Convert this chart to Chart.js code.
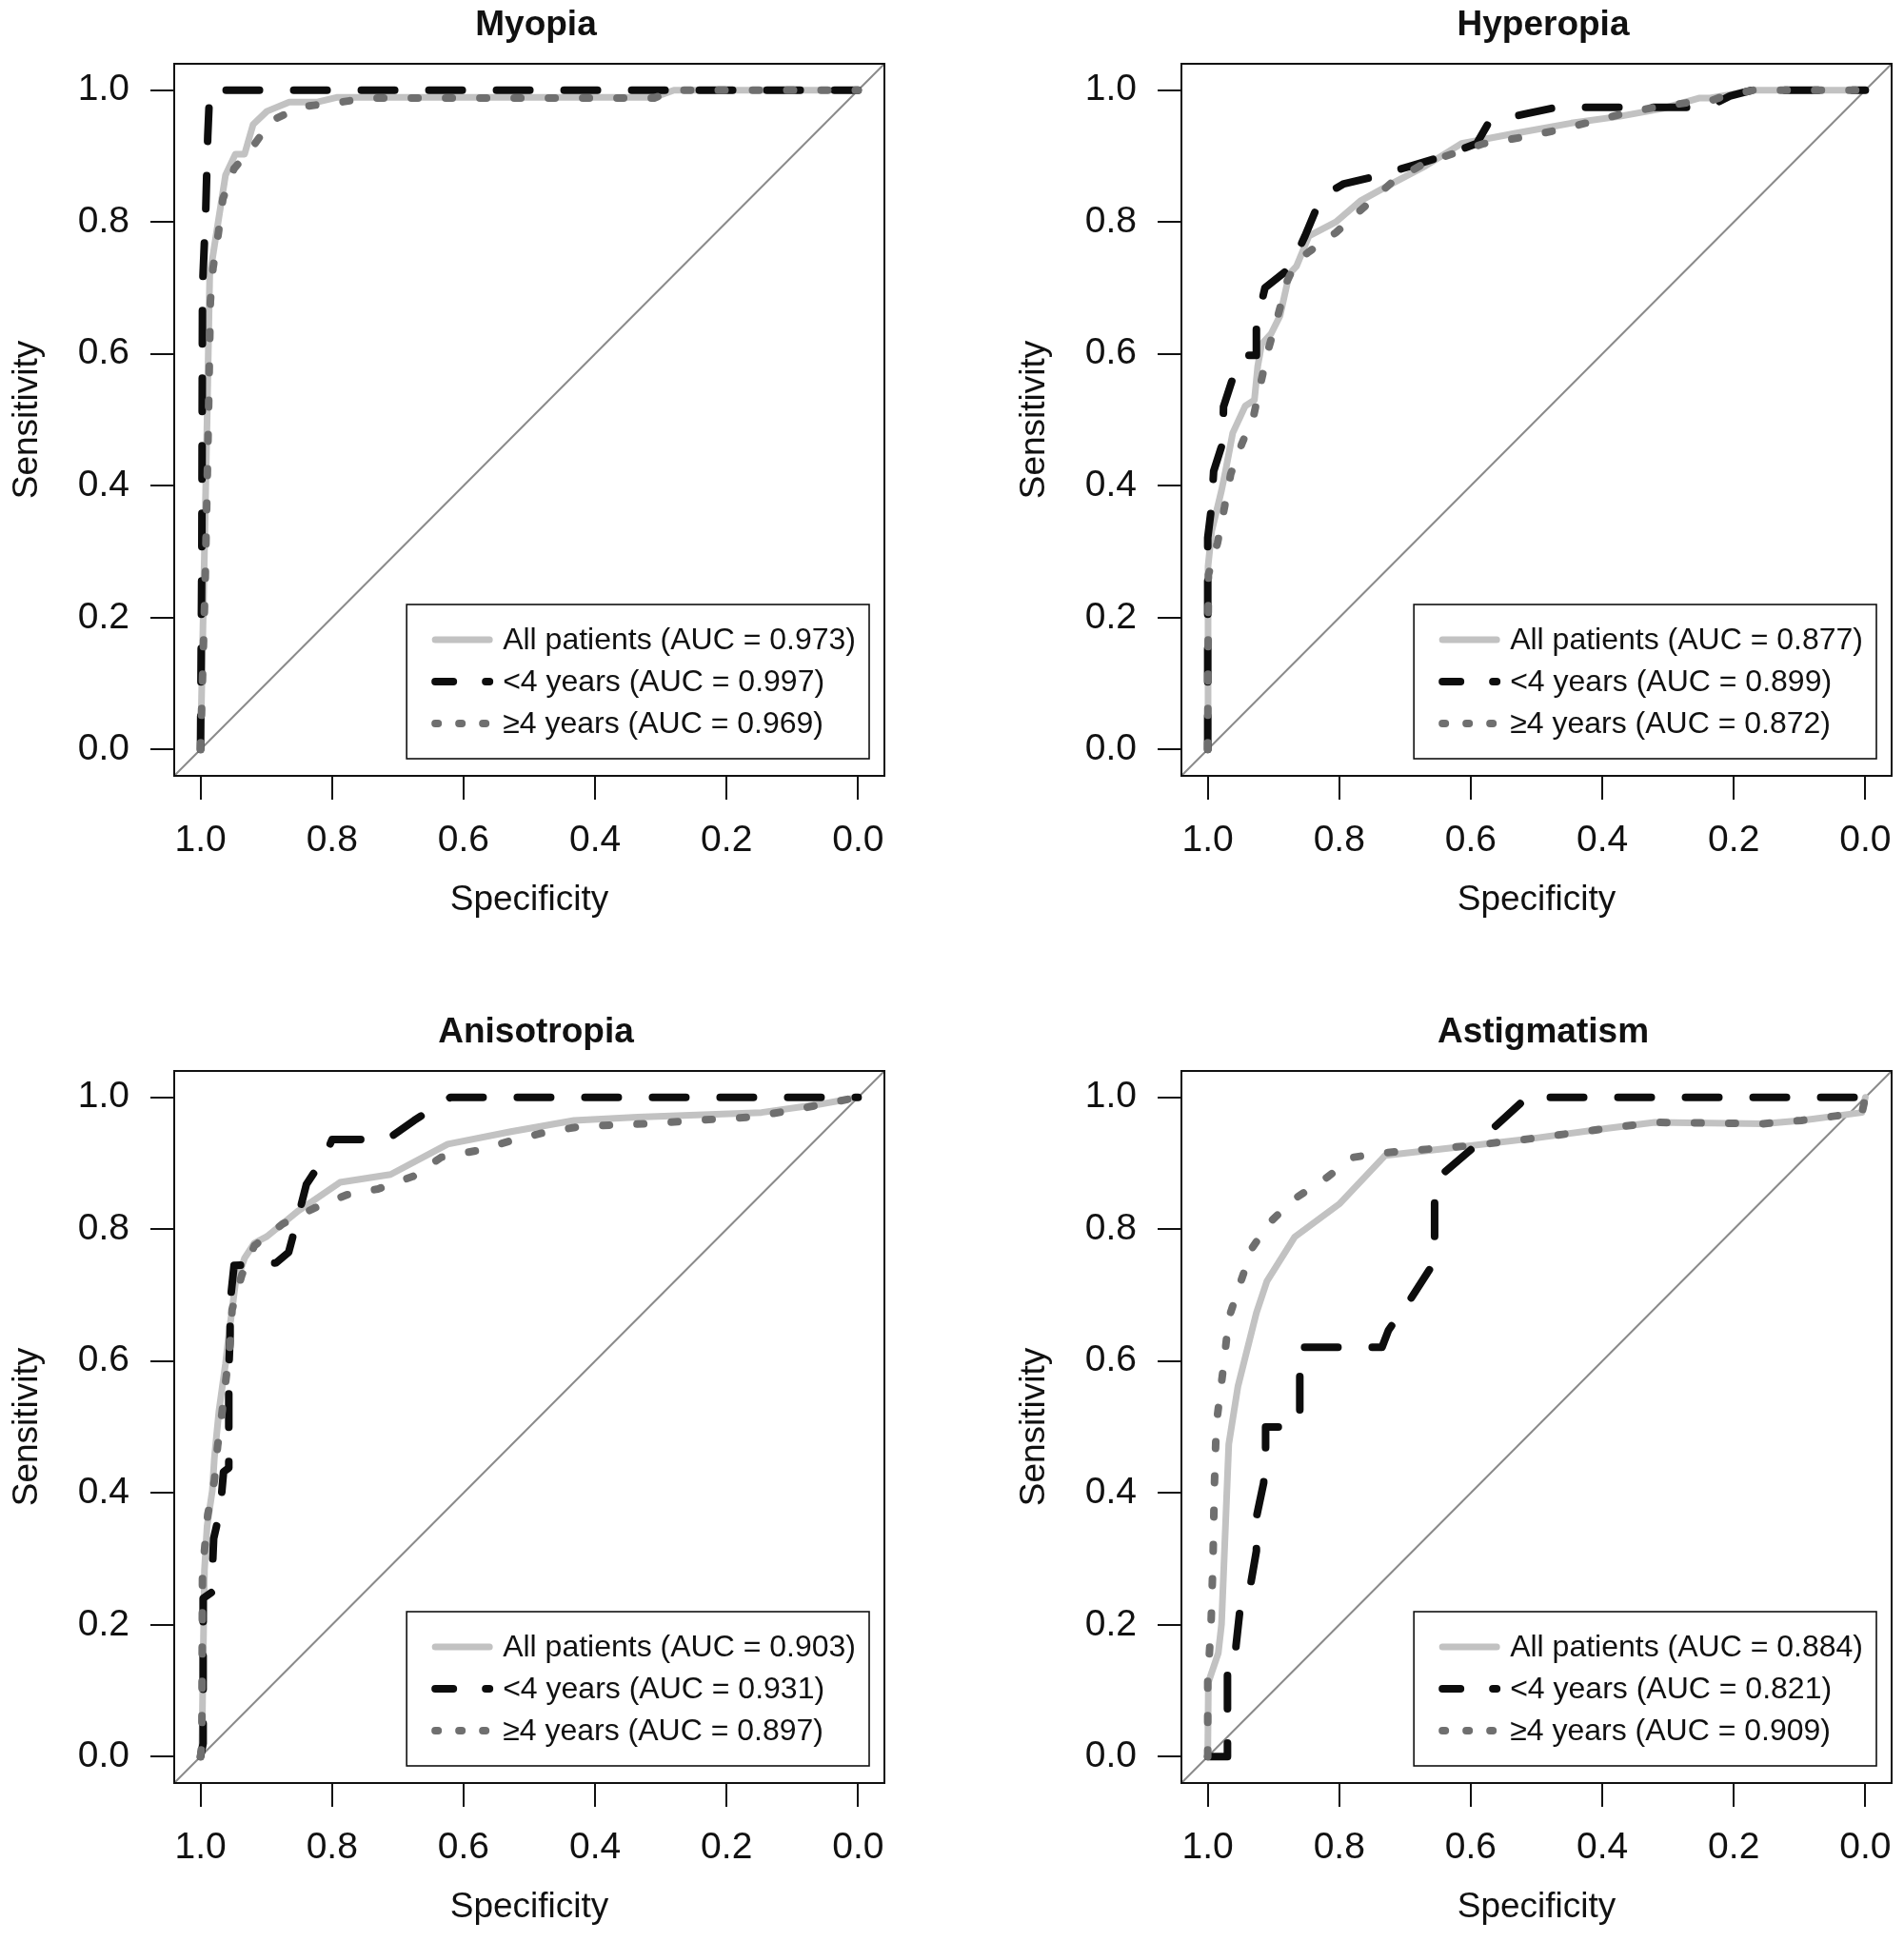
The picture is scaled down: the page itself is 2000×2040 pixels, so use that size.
<!DOCTYPE html>
<html>
<head>
<meta charset="utf-8">
<script src="https://cdn.jsdelivr.net/npm/chart.js@4.4.1/dist/chart.umd.min.js"></script>
<style>
  html, body { margin: 0; padding: 0; background: #fff; }
  #page { position: relative; width: 2000px; height: 2040px; }
  #page canvas { position: absolute; }
</style>
</head>
<body>
<div id="page">
  <canvas id="myopia" width="942" height="980" style="left:0;top:0"></canvas>
  <canvas id="hyperopia" width="942" height="980" style="left:1058px;top:0"></canvas>
  <canvas id="anisotropia" width="942" height="980" style="left:0;top:1058px"></canvas>
  <canvas id="astigmatism" width="942" height="980" style="left:1058px;top:1058px"></canvas>
</div>
<script>
// axis ticks (specificity is drawn reversed, 1.0 -> 0.0)
const tickValues = [0, 0.2, 0.4, 0.6, 0.8, 1.0];
const seriesNames = ["All patients", "<4 years", "\u22654 years"];
const panelTitles = ["Myopia", "Hyperopia", "Anisotropia", "Astigmatism"];

// AUC per series: all, <4, >=4
const aucMyopia = [0.973, 0.997, 0.969];
const aucHyperopia = [0.877, 0.899, 0.872];
const aucAnisotropia = [0.903, 0.931, 0.897];
const aucAstigmatism = [0.884, 0.821, 0.909];

// chance line
const chanceSpec = [1.04, -0.04];
const chanceSens = [-0.04, 1.04];

// Myopia
const myopiaAllSpec = [1, 0.996, 0.99, 0.986, 0.981, 0.962, 0.947, 0.933, 0.92, 0.899, 0.865, 0.822, 0.793, 0.31, 0.28, 0];
const myopiaAllSens = [0, 0.2, 0.5, 0.72, 0.75, 0.871, 0.903, 0.903, 0.948, 0.968, 0.982, 0.982, 0.989, 0.989, 1, 1];
const myopiaYoungSpec = [1, 0.998, 0.997, 0.992, 0.989, 0.986, 0];
const myopiaYoungSens = [0, 0.3, 0.7, 0.82, 0.93, 1, 1];
const myopiaOlderSpec = [1, 0.993, 0.988, 0.985, 0.981, 0.973, 0.966, 0.949, 0.92, 0.892, 0.846, 0.793, 0.745, 0.31, 0.28, 0];
const myopiaOlderSens = [0, 0.25, 0.5, 0.68, 0.73, 0.782, 0.835, 0.881, 0.915, 0.954, 0.975, 0.981, 0.988, 0.988, 1, 1];

// Hyperopia
const hyperopiaAllSpec = [1, 0.9995, 0.994, 0.979, 0.973, 0.962, 0.943, 0.929, 0.924, 0.918, 0.904, 0.89, 0.876, 0.865, 0.846, 0.805, 0.768, 0.724, 0.669, 0.614, 0.53, 0.447, 0.375, 0.309, 0.253, 0.236, 0.206, 0.17, 0];
const hyperopiaAllSens = [0, 0.278, 0.331, 0.393, 0.422, 0.48, 0.521, 0.53, 0.581, 0.615, 0.63, 0.658, 0.721, 0.733, 0.779, 0.8, 0.832, 0.856, 0.885, 0.919, 0.935, 0.95, 0.96, 0.972, 0.988, 0.988, 0.993, 1, 1];
const hyperopiaYoungSpec = [1, 1, 0.994, 0.991, 0.977, 0.976, 0.96, 0.946, 0.926, 0.926, 0.913, 0.874, 0.852, 0.832, 0.823, 0.793, 0.75, 0.691, 0.644, 0.591, 0.572, 0.517, 0.469, 0.24, 0.206, 0.172, 0];
const hyperopiaYoungSens = [0, 0.321, 0.37, 0.422, 0.466, 0.52, 0.569, 0.598, 0.598, 0.645, 0.70, 0.731, 0.779, 0.827, 0.841, 0.858, 0.868, 0.885, 0.899, 0.919, 0.952, 0.964, 0.974, 0.974, 0.991, 1, 1];
const hyperopiaOlderSpec = [1, 0.999, 0.985, 0.975, 0.965, 0.948, 0.93, 0.918, 0.907, 0.893, 0.879, 0.865, 0.846, 0.805, 0.763, 0.719, 0.669, 0.58, 0.525, 0.475, 0.425, 0.37, 0.32, 0.27, 0.243, 0.215, 0.17, 0];
const hyperopiaOlderSens = [0, 0.265, 0.314, 0.365, 0.418, 0.464, 0.507, 0.562, 0.61, 0.659, 0.711, 0.74, 0.755, 0.784, 0.822, 0.861, 0.89, 0.919, 0.928, 0.938, 0.95, 0.964, 0.974, 0.981, 0.981, 0.991, 1, 1];

// Anisotropia
const anisoAllSpec = [1, 0.998, 0.994, 0.99, 0.982, 0.979, 0.972, 0.962, 0.957, 0.952, 0.947, 0.933, 0.918, 0.899, 0.851, 0.788, 0.711, 0.624, 0.528, 0.432, 0.335, 0.147, 0.061, 0];
const anisoAllSens = [0, 0.01, 0.283, 0.35, 0.404, 0.452, 0.524, 0.596, 0.64, 0.678, 0.717, 0.756, 0.779, 0.789, 0.828, 0.871, 0.883, 0.929, 0.948, 0.965, 0.97, 0.977, 0.989, 1];
const anisoYoungSpec = [1, 0.996, 0.996, 0.982, 0.982, 0.98, 0.97, 0.965, 0.957, 0.957, 0.955, 0.955, 0.949, 0.885, 0.866, 0.851, 0.839, 0.81, 0.80, 0.716, 0.675, 0.62, 0];
const anisoYoungSens = [0, 0.02, 0.24, 0.25, 0.283, 0.331, 0.374, 0.432, 0.438, 0.587, 0.64, 0.688, 0.745, 0.749, 0.765, 0.821, 0.868, 0.912, 0.936, 0.936, 0.965, 1, 1];
const anisoOlderSpec = [1, 0.998, 0.997, 0.989, 0.979, 0.974, 0.967, 0.955, 0.952, 0.937, 0.918, 0.875, 0.827, 0.778, 0.73, 0.677, 0.634, 0.581, 0.528, 0.48, 0.427, 0.374, 0.32, 0.215, 0.162, 0.109, 0.056, 0];
const anisoOlderSens = [0, 0.02, 0.28, 0.367, 0.418, 0.471, 0.524, 0.626, 0.678, 0.731, 0.775, 0.808, 0.832, 0.852, 0.861, 0.88, 0.909, 0.919, 0.934, 0.946, 0.955, 0.958, 0.96, 0.967, 0.97, 0.979, 0.989, 1];

// Astigmatism
const astigAllSpec = [1, 0.999, 0.984, 0.979, 0.968, 0.954, 0.926, 0.91, 0.868, 0.799, 0.73, 0.597, 0.503, 0.392, 0.32, 0.155, 0.097, 0.043, 0.005, 0];
const astigAllSens = [0, 0.113, 0.157, 0.201, 0.474, 0.562, 0.673, 0.721, 0.788, 0.839, 0.912, 0.927, 0.938, 0.953, 0.962, 0.96, 0.965, 0.972, 0.977, 1];
const astigYoungSpec = [1, 0.97, 0.97, 0.96, 0.957, 0.951, 0.935, 0.926, 0.926, 0.915, 0.912, 0.912, 0.868, 0.86, 0.86, 0.735, 0.725, 0.691, 0.66, 0.655, 0.655, 0.644, 0.597, 0.566, 0.522, 0.52, 0];
const astigYoungSens = [0, 0, 0.125, 0.127, 0.168, 0.223, 0.26, 0.312, 0.363, 0.415, 0.452, 0.5, 0.5, 0.52, 0.621, 0.621, 0.647, 0.695, 0.743, 0.783, 0.842, 0.883, 0.923, 0.953, 0.993, 1, 1];
const astigOlderSpec = [1, 1, 0.995, 0.992, 0.99, 0.987, 0.976, 0.968, 0.951, 0.932, 0.907, 0.868, 0.818, 0.779, 0.73, 0.597, 0.503, 0.392, 0.32, 0.155, 0.097, 0.043, 0.005, 0];
const astigOlderSens = [0, 0.113, 0.2, 0.297, 0.407, 0.503, 0.592, 0.665, 0.717, 0.772, 0.809, 0.846, 0.879, 0.909, 0.916, 0.927, 0.938, 0.953, 0.962, 0.96, 0.965, 0.972, 0.977, 1];

const FONT = '"Liberation Sans", Arial, Helvetica, sans-serif';
const INK = "#111";

// line look per series (all / <4 / >=4), R-style lty solid, dashed, dotted
const seriesStyles = [
  { color: "#c2c2c2", width: 7, dash: [], legendDash: [] },
  { color: "#0d0d0d", width: 8, dash: [35, 36], legendDash: [19, 34] },
  { color: "#6f6f6f", width: 8, dash: [7, 29], legendDash: [3, 22] }
];

function rocPoints(spec, sens) {
  return spec.map((s, i) => ({ x: s, y: sens[i] }));
}

// box, title and bottom-right legend, drawn the way R's plot.roc lays them out
const panelDecor = {
  id: "panelDecor",
  afterDatasetsDraw(chart, args, opts) {
    const { ctx, chartArea: a } = chart;
    ctx.save();

    ctx.strokeStyle = INK;
    ctx.lineWidth = 2;
    ctx.strokeRect(a.left, a.top, a.right - a.left, a.bottom - a.top);

    ctx.fillStyle = INK;
    ctx.font = "bold 37px " + FONT;
    ctx.textAlign = "center";
    ctx.textBaseline = "alphabetic";
    ctx.fillText(opts.title, (a.left + a.right) / 2 + 7, 37);

    // legend
    ctx.font = "32px " + FONT;
    const labels = seriesNames.map((n, i) => n + " (AUC = " + opts.auc[i].toFixed(3) + ")");
    const textW = Math.max(...labels.map(t => ctx.measureText(t).width));
    const padL = 30, sample = 57, gap = 14, padR = 14, rowGap = 44, padV = 37;
    const w = padL + sample + gap + textW + padR;
    const h = padV * 2 + rowGap * 2;
    const right = a.right - 16, bottom = a.bottom - 18;
    const left = right - w, top = bottom - h;
    ctx.fillStyle = "#fff";
    ctx.fillRect(left, top, w, h);
    ctx.strokeStyle = INK;
    ctx.lineWidth = 1.6;
    ctx.strokeRect(left, top, w, h);

    ctx.textAlign = "left";
    ctx.textBaseline = "middle";
    labels.forEach((t, i) => {
      const y = top + padV + i * rowGap;
      const st = seriesStyles[i];
      ctx.beginPath();
      ctx.strokeStyle = st.color;
      ctx.lineWidth = st.width;
      ctx.lineCap = "round";
      ctx.setLineDash(st.legendDash);
      ctx.moveTo(left + padL, y);
      ctx.lineTo(left + padL + sample, y);
      ctx.stroke();
      ctx.setLineDash([]);
      ctx.fillStyle = INK;
      ctx.fillText(t, left + padL + sample + gap, y + 1);
    });
    ctx.restore();
  }
};

function makeChart(id, title, auc, series) {
  const datasets = series.map((s, i) => ({
    label: seriesNames[i],
    data: rocPoints(s[0], s[1]),
    showLine: true,
    borderColor: seriesStyles[i].color,
    borderWidth: seriesStyles[i].width,
    borderDash: seriesStyles[i].dash,
    borderCapStyle: "round",
    borderJoinStyle: "round",
    pointRadius: 0,
    tension: 0,
    fill: false,
    order: 3 - i
  }));
  datasets.push({
    label: "chance",
    data: rocPoints(chanceSpec, chanceSens),
    showLine: true,
    borderColor: "#8a8a8a",
    borderWidth: 2,
    pointRadius: 0,
    clip: 0,
    order: 10
  });

  return new Chart(document.getElementById(id), {
    type: "scatter",
    data: { datasets },
    plugins: [panelDecor],
    options: {
      responsive: false,
      animation: false,
      events: [],
      layout: { padding: { left: 0, top: 67, right: 13, bottom: 0 } },
      plugins: {
        legend: { display: false },
        tooltip: { enabled: false },
        title: { display: false },
        panelDecor: { title: title, auc: auc }
      },
      scales: {
        x: {
          type: "linear",
          reverse: true,
          min: -0.04,
          max: 1.04,
          afterBuildTicks: sc => { sc.ticks = tickValues.map(v => ({ value: v })); },
          afterFit: sc => { sc.height = 165; },
          ticks: {
            callback: v => v.toFixed(1),
            font: { family: FONT, size: 39 },
            color: INK,
            padding: 20,
            maxRotation: 0,
            autoSkip: false
          },
          grid: { drawOnChartArea: false, drawTicks: true, tickLength: 25, color: INK, lineWidth: 2 },
          border: { display: false },
          title: {
            display: true,
            text: "Specificity",
            font: { family: FONT, size: 37 },
            color: INK,
            padding: { top: 0, bottom: 12 }
          }
        },
        y: {
          type: "linear",
          min: -0.04,
          max: 1.04,
          afterBuildTicks: sc => { sc.ticks = tickValues.map(v => ({ value: v })); },
          afterFit: sc => { sc.width = 183; },
          ticks: {
            callback: v => v.toFixed(1),
            font: { family: FONT, size: 39 },
            color: INK,
            padding: 22,
            autoSkip: false
          },
          grid: { drawOnChartArea: false, drawTicks: true, tickLength: 25, color: INK, lineWidth: 2 },
          border: { display: false },
          title: {
            display: true,
            text: "Sensitivity",
            font: { family: FONT, size: 37 },
            color: INK,
            padding: { top: 7, bottom: 0 }
          }
        }
      }
    }
  });
}

makeChart("myopia", panelTitles[0], aucMyopia, [
  [myopiaAllSpec, myopiaAllSens],
  [myopiaYoungSpec, myopiaYoungSens],
  [myopiaOlderSpec, myopiaOlderSens]
]);
makeChart("hyperopia", panelTitles[1], aucHyperopia, [
  [hyperopiaAllSpec, hyperopiaAllSens],
  [hyperopiaYoungSpec, hyperopiaYoungSens],
  [hyperopiaOlderSpec, hyperopiaOlderSens]
]);
makeChart("anisotropia", panelTitles[2], aucAnisotropia, [
  [anisoAllSpec, anisoAllSens],
  [anisoYoungSpec, anisoYoungSens],
  [anisoOlderSpec, anisoOlderSens]
]);
makeChart("astigmatism", panelTitles[3], aucAstigmatism, [
  [astigAllSpec, astigAllSens],
  [astigYoungSpec, astigYoungSens],
  [astigOlderSpec, astigOlderSens]
]);
</script>
</body>
</html>
